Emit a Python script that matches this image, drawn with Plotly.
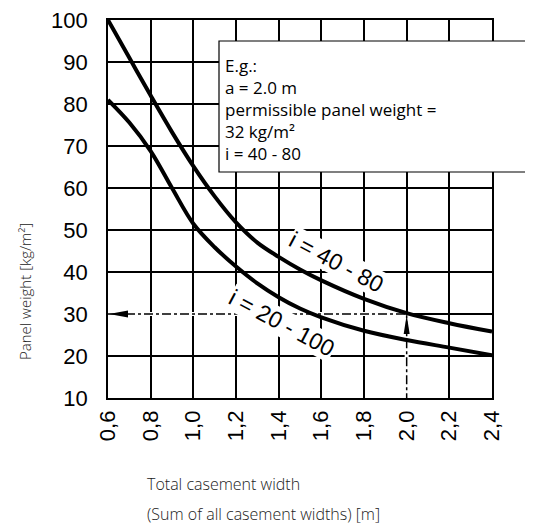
import plotly.graph_objects as go

# ---- data ----
casement_width = [0.6, 0.7, 0.8, 0.9, 1.0, 1.1, 1.2, 1.3, 1.4, 1.5, 1.6, 1.8, 2.0, 2.2, 2.4]
weight_i40_80 = [100, 91.0, 82.0, 73.3, 65.2, 58.0, 51.8, 47.0, 43.6, 40.6, 38.0, 33.6, 30.2, 27.8, 25.8]
weight_i20_100 = [81.0, 75.6, 68.8, 60.0, 51.5, 45.9, 41.3, 37.3, 34.0, 31.3, 29.2, 26.0, 23.8, 22.0, 20.2]

x_tick_vals = [0.6, 0.8, 1.0, 1.2, 1.4, 1.6, 1.8, 2.0, 2.2, 2.4]
x_tick_text = ["0,6", "0,8", "1,0", "1,2", "1,4", "1,6", "1,8", "2,0", "2,2", "2,4"]
y_tick_vals = [10, 20, 30, 40, 50, 60, 70, 80, 90, 100]

example_width = 2.0
example_weight = 30

label_40_80 = "i = 40 - 80"
label_20_100 = "i = 20 - 100"
box_lines = ["E.g.:", "a = 2.0 m", "permissible panel weight =", "32 kg/m²", "i = 40 - 80"]
y_title = "Panel weight [kg/m²]"
x_title_lines = ["Total casement width", "(Sum of all casement widths) [m]"]

x_min, x_max = x_tick_vals[0], x_tick_vals[-1]
y_min, y_max = y_tick_vals[0], y_tick_vals[-1]

# geometry: the page body has an 8px margin, so the figure is shifted by 8px
OFF = 8
W, H = 525, 518
L, T = 100, 12
PW, PH = 384, 378
R, B = W - L - PW, H - T - PH


def px_x(p):
    """window pixel x -> paper fraction"""
    return (p - OFF - L) / PW


def px_y(p):
    """window pixel y -> paper fraction"""
    return (H - B - (p - OFF)) / PH


fig = go.Figure()

# hide gridline segments replaced by dash-dot helper lines
fig.add_trace(go.Scatter(x=[x_min, example_width], y=[example_weight, example_weight],
                         mode="lines", line=dict(color="white", width=4),
                         hoverinfo="skip", showlegend=False))
fig.add_trace(go.Scatter(x=[example_width, example_width], y=[y_min, example_weight],
                         mode="lines", line=dict(color="white", width=4),
                         hoverinfo="skip", showlegend=False))
# dash-dot helper lines
fig.add_trace(go.Scatter(x=[x_min, example_width, example_width],
                         y=[example_weight, example_weight, y_min],
                         mode="lines", line=dict(color="black", width=1.5, dash="dashdot"),
                         hoverinfo="skip", showlegend=False))

# curves
fig.add_trace(go.Scatter(x=casement_width, y=weight_i40_80, mode="lines",
                         line=dict(color="black", width=4, shape="spline", smoothing=1.0),
                         showlegend=False))
fig.add_trace(go.Scatter(x=casement_width, y=weight_i20_100, mode="lines",
                         line=dict(color="black", width=4, shape="spline", smoothing=1.0),
                         showlegend=False))

# arrowheads (pixel-sized, anchored on the data point)
fig.add_shape(type="path", xref="x", yref="y", xsizemode="pixel", ysizemode="pixel",
              xanchor=x_min, yanchor=example_weight,
              path="M1,0 L20,3.5 L20,-3.5 Z", fillcolor="black", line=dict(width=0))
fig.add_shape(type="path", xref="x", yref="y", xsizemode="pixel", ysizemode="pixel",
              xanchor=example_width, yanchor=example_weight,
              path="M0,-1 L-3,-20 L3,-20 Z", fillcolor="black", line=dict(width=0))

# example box
fig.add_shape(type="rect", xref="paper", yref="paper", x0=px_x(219), x1=px_x(560),
              y0=px_y(172), y1=px_y(41),
              line=dict(color="black", width=1.2), fillcolor="white", layer="above")
fig.add_annotation(xref="paper", yref="paper", x=px_x(224), y=px_y(109),
                   xanchor="left", yanchor="middle", align="left", showarrow=False,
                   text="<br>".join(box_lines), borderpad=0,
                   font=dict(family="Open Sans", size=17, color="black"))

# curve labels
fig.add_annotation(x=1.67, y=42.4, text=label_40_80, textangle=28, showarrow=False,
                   bgcolor="white", borderpad=0,
                   font=dict(family="Liberation Sans, Arial", size=23, color="black"))
fig.add_annotation(x=1.415, y=27.9, text=label_20_100, textangle=28, showarrow=False,
                   bgcolor="white", borderpad=0,
                   font=dict(family="Liberation Sans, Arial", size=23, color="black"))

# axis titles
fig.add_annotation(xref="paper", yref="paper", x=px_x(25), y=px_y(292),
                   xanchor="center", yanchor="middle",
                   text=y_title, textangle=-90, showarrow=False,
                   font=dict(family="Open Sans", size=15, color="#222", weight=300))
for i, line in enumerate(x_title_lines):
    fig.add_annotation(xref="paper", yref="paper", x=px_x(145), y=px_y(484 + 30 * i),
                       xanchor="left", yanchor="middle", text=line, showarrow=False,
                       font=dict(family="Open Sans", size=16, color="#222", weight=300))

fig.update_xaxes(range=[x_min, x_max], tickvals=x_tick_vals, ticktext=x_tick_text,
                 tickangle=-90, showgrid=True, gridcolor="black", gridwidth=1.6,
                 showline=True, linecolor="black", linewidth=1.6, mirror=True,
                 zeroline=False, ticks="", ticklabelstandoff=2, automargin=False,
                 ticklabeloverflow="allow",
                 tickfont=dict(family="Liberation Sans, Arial", size=22, color="black"))
fig.update_yaxes(range=[y_min, y_max], tickvals=y_tick_vals,
                 showgrid=True, gridcolor="black", gridwidth=1.6,
                 showline=True, linecolor="black", linewidth=1.6, mirror=True,
                 zeroline=False, ticks="", ticklabelstandoff=14, automargin=False,
                 ticklabeloverflow="allow",
                 tickfont=dict(family="Liberation Sans, Arial", size=22, color="black"))

fig.update_layout(width=W, height=H, margin=dict(l=L, r=R, t=T, b=B),
                  plot_bgcolor="white", paper_bgcolor="white", showlegend=False)

fig.write_html("out.html")
